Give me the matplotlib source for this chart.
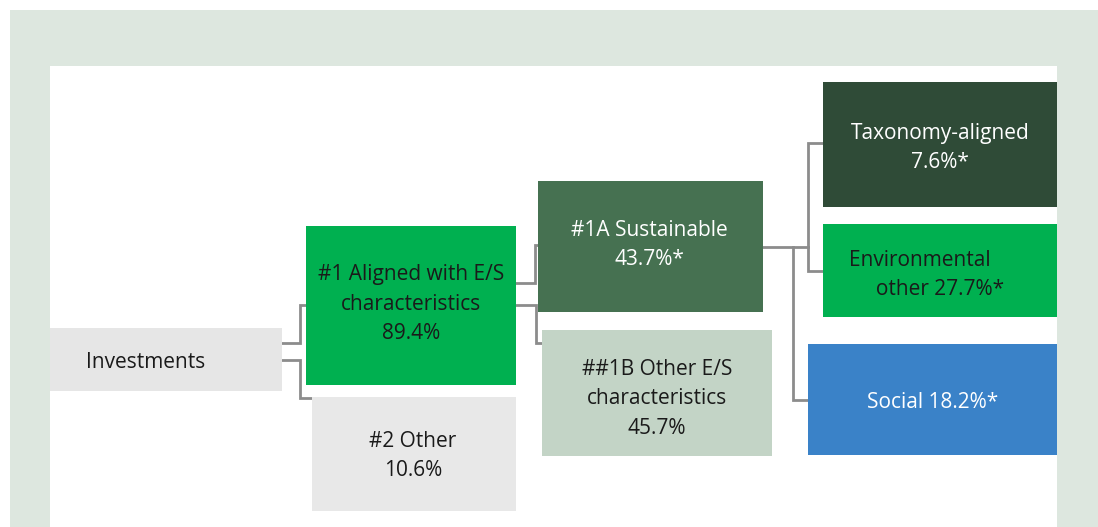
import matplotlib.pyplot as plt
from matplotlib.patches import Rectangle

# data
names = ["Investments", "#1 Aligned with E/S\ncharacteristics", "#2 Other",
         "#1A Sustainable", "##1B Other E/S\ncharacteristics",
         "Taxonomy-aligned", "Environmental\n     other", "Social"]
shares = [None, 89.4, 10.6, 43.7, 45.7, 7.6, 27.7, 18.2]
starred = [False, False, False, True, False, True, True, True]

# layout (pixels): x0, y0, x1, y1, face colour, text colour, text x, text y, align
boxes = [
    (50, 328, 282, 391, "#e6e6e6", "#1a1a1a", 86, 362, "left"),
    (306, 226, 516, 385, "#00b050", "#1a1a1a", 411, 304, "center"),
    (312, 397, 516, 511, "#e8e8e8", "#1a1a1a", 413, 456, "center"),
    (538, 181, 763, 312, "#467151", "white", 649, 245, "center"),
    (542, 330, 772, 456, "#c3d4c6", "#1a1a1a", 657, 399, "center"),
    (823, 82, 1057, 207, "#2f4b37", "white", 940, 148, "center"),
    (823, 224, 1057, 317, "#00b050", "#1a1a1a", 849, 275, "left"),
    (808, 344, 1057, 455, "#3a82c8", "white", 933, 402, "center"),
]

connectors = [
    [(282, 343), (300, 343), (300, 305), (306, 305)],
    [(282, 360), (300, 360), (300, 398), (312, 398)],
    [(516, 283), (535, 283), (535, 245), (538, 245)],
    [(516, 305), (536, 305), (536, 343), (542, 343)],
    [(763, 247), (808, 247)],
    [(823, 143), (808, 143), (808, 271), (823, 271)],
    [(793, 247), (793, 400), (808, 400)],
]

plt.rcParams['font.family'] = ['Open Sans', 'DejaVu Sans']

fig = plt.figure(figsize=(10.98, 5.27), dpi=100)
fig.patch.set_facecolor("white")
ax = fig.add_axes([0, 0, 1, 1])
ax.set_xlim(0, 1098)
ax.set_ylim(527, 0)
ax.axis("off")

# panels
ax.add_patch(Rectangle((10, 10), 1088, 517, facecolor="#dde7df", edgecolor="none"))
ax.add_patch(Rectangle((50, 66), 1007, 461, facecolor="white", edgecolor="none"))

for pts in connectors:
    xs, ys = zip(*pts)
    ax.plot(xs, ys, color="#8c8c8c", lw=2, solid_joinstyle="miter", zorder=1)

for i, (x0, y0, x1, y1, fc, tc, tx, ty, ha) in enumerate(boxes):
    ax.add_patch(Rectangle((x0, y0), x1 - x0, y1 - y0, facecolor=fc,
                           edgecolor="none", zorder=2))
    label = names[i]
    if shares[i] is not None:
        pct = f"{shares[i]:.1f}%" + ("*" if starred[i] else "")
        if i in (6, 7):
            label = f"{label} {pct}"
        else:
            label = f"{label}\n{pct}"
    ax.text(tx, ty, label, color=tc, fontsize=15, ha=ha, va="center",
            multialignment="left" if ha == "left" else "center",
            linespacing=1.55, zorder=3)

fig.savefig("out.png", dpi=100, facecolor=fig.get_facecolor())
